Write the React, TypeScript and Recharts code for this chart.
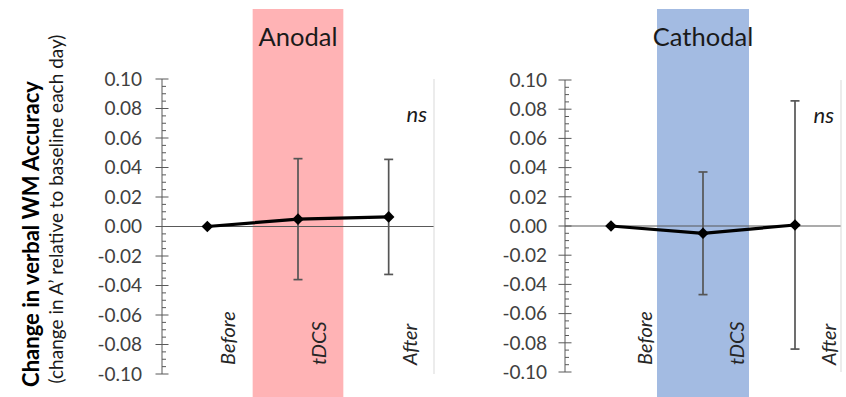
import React from 'react';
import { ComposedChart, Line, XAxis, YAxis, ReferenceArea, ReferenceLine, ErrorBar } from 'recharts';

// ---- data ----
const categories = ['Before', 'tDCS', 'After'];
const anodalMean = [0, 0.005, 0.0065];
const anodalErr = [0, 0.041, 0.039];
const cathodalMean = [0, -0.005, 0.0007];
const cathodalErr = [0, 0.042, 0.085];
const majorTicks = [-0.1, -0.08, -0.06, -0.04, -0.02, 0, 0.02, 0.04, 0.06, 0.08, 0.1];
const majorTickLabels = ['-0.10', '-0.08', '-0.06', '-0.04', '-0.02', '0.00', '0.02', '0.04', '0.06', '0.08', '0.10'];
const panelTitles = ['Anodal', 'Cathodal'];
const yTitle = 'Change in verbal WM Accuracy';
const ySubtitle = '(change in A\u2019 relative to baseline each day)';
const sigLabel = 'ns';

const FONT = 'Lato, "Open Sans", sans-serif';
const AXIS = '#595959';

// minor ticks: 4 subdivisions of each major interval
const allTicks: number[] = [];
majorTicks.forEach((t, i) => {
  allTicks.push(t);
  if (i < majorTicks.length - 1) {
    const step = (majorTicks[i + 1] - t) / 4;
    for (let k = 1; k < 4; k++) allTicks.push(Math.round((t + step * k) * 10000) / 10000);
  }
});

const buildData = (mean: number[], err: number[]) =>
  categories.map((c, i) => ({ x: i + 0.5, name: c, y: mean[i], err: err[i] }));

const YTick = (props: any) => {
  const { x, y, payload, gap } = props;
  const v = payload.value;
  const idx = majorTicks.findIndex((m) => Math.abs(m - v) < 1e-7);
  const isMajor = idx >= 0;
  return (
    <g>
      {isMajor ? (
        <line x1={x - 6.5} x2={x + 6.5} y1={y} y2={y} stroke={AXIS} strokeWidth={1} />
      ) : (
        <line x1={x} x2={x + 4} y1={y} y2={y} stroke={AXIS} strokeWidth={1} />
      )}
      {isMajor && (
        <text x={x - gap} y={y} dy="0.36em" textAnchor="end" fontFamily={FONT} fontSize={19} fill="#404040">
          {majorTickLabels[idx]}
        </text>
      )}
    </g>
  );
};

const XTick = (props: any) => {
  const { x, y, payload, off, up } = props;
  const idx = Math.floor(payload.value);
  return (
    <text
      transform={`translate(${x + off},${y - up}) rotate(-90)`}
      fontFamily={FONT}
      fontStyle="italic"
      fontSize={20}
      fill="#262626"
    >
      {categories[idx]}
    </text>
  );
};

const Diamond = (props: any) => {
  const { cx, cy } = props;
  if (cx == null || cy == null) return null;
  const s = 5.8;
  return <polygon points={`${cx},${cy - s} ${cx + s},${cy} ${cx},${cy + s} ${cx - s},${cy}`} fill="#000" stroke="none" />;
};

const BandTitle = (props: any) => {
  const vb = props.viewBox || { x: 0, y: 0, width: 0, height: 0 };
  return (
    <text x={vb.x + vb.width / 2} y={vb.y + 37} textAnchor="middle" fontFamily={FONT} fontSize={25.5} fill="#1a1a1a">
      {props.text}
    </text>
  );
};

const SigText = (props: any) => {
  const vb = props.viewBox || { x: 0, y: 0 };
  return (
    <text x={vb.x - 7} y={vb.y + 43} textAnchor="end" fontFamily={FONT} fontStyle="italic" fontSize={22} fill="#1a1a1a">
      {sigLabel}
    </text>
  );
};

const YTitle = () => (
  <g>
    <text transform="translate(39,234) rotate(-90)" textAnchor="middle" fontFamily={FONT} fontWeight="bold" fontSize={22} fill="#000">
      {yTitle}
    </text>
    <text transform="translate(63,209) rotate(-90)" textAnchor="middle" fontFamily={FONT} fontSize={19} fill="#1a1a1a">
      {ySubtitle}
    </text>
  </g>
);

type PanelProps = {
  data: any[];
  width: number;
  left: number;
  margin: any;
  xAxisHeight: number;
  yAxisWidth: number;
  bandColor: string;
  bandTop: number;
  bandBottom: number;
  title: string;
  tickGap: number;
  labelOff: number;
  labelUp: number;
  showYTitle: boolean;
};

const Panel = (p: PanelProps) => (
  <div style={{ position: 'absolute', left: p.left, top: 0 }}>
    <ComposedChart width={p.width} height={397} data={p.data} margin={p.margin}>
      <ReferenceArea
        x1={1}
        x2={2}
        y1={p.bandBottom}
        y2={p.bandTop}
        fill={p.bandColor}
        fillOpacity={1}
        stroke="none"
        ifOverflow="visible"
        label={<BandTitle text={p.title} />}
      />
      <XAxis
        type="number"
        dataKey="x"
        domain={[0, 3]}
        ticks={[0.5, 1.5, 2.5]}
        allowDataOverflow
        height={p.xAxisHeight}
        axisLine={false}
        tickLine={false}
        tickSize={0}
        tickMargin={0}
        interval={0}
        tick={(tp: any) => <XTick {...tp} off={p.labelOff} up={p.labelUp} />}
      />
      <YAxis
        type="number"
        domain={[-0.1, 0.1]}
        ticks={allTicks}
        allowDataOverflow
        width={p.yAxisWidth}
        interval={0}
        tickLine={false}
        tickSize={0}
        tickMargin={0}
        axisLine={{ stroke: AXIS, strokeWidth: 1 }}
        tick={(tp: any) => <YTick {...tp} gap={p.tickGap} />}
        label={p.showYTitle ? <YTitle /> : undefined}
      />
      <ReferenceLine y={0} stroke={AXIS} strokeWidth={1.2} ifOverflow="visible" />
      <ReferenceLine x={3} stroke="#D9D9D9" strokeWidth={1} ifOverflow="visible" label={<SigText />} />
      <Line
        type="linear"
        dataKey="y"
        stroke="#000"
        strokeWidth={3.2}
        dot={<Diamond />}
        activeDot={false}
        isAnimationActive={false}
      >
        <ErrorBar dataKey="err" direction="y" width={4.5} stroke="#555" strokeWidth={1.7} isAnimationActive={false} />
      </Line>
    </ComposedChart>
  </div>
);

export default function App() {
  return (
    <div style={{ position: 'absolute', left: 0, top: 0, width: 846, height: 397, background: '#fff', overflow: 'hidden' }}>
      <Panel
        data={buildData(anodalMean, anodalErr)}
        width={436}
        left={0}
        margin={{ top: 79, right: 2, bottom: 0, left: 0 }}
        xAxisHeight={23}
        yAxisWidth={162}
        bandColor="#FFB3B5"
        bandTop={0.1475}
        bandBottom={-0.1156}
        title={panelTitles[0]}
        tickGap={20}
        labelOff={28}
        labelUp={9}
        showYTitle={true}
      />
      <Panel
        data={buildData(cathodalMean, cathodalErr)}
        width={410}
        left={436}
        margin={{ top: 80, right: 5, bottom: 0, left: 0 }}
        xAxisHeight={25}
        yAxisWidth={129}
        bandColor="#A3BBE2"
        bandTop={0.1486}
        bandBottom={-0.1171}
        title={panelTitles[1]}
        tickGap={18}
        labelOff={41}
        labelUp={7}
        showYTitle={false}
      />
    </div>
  );
}
